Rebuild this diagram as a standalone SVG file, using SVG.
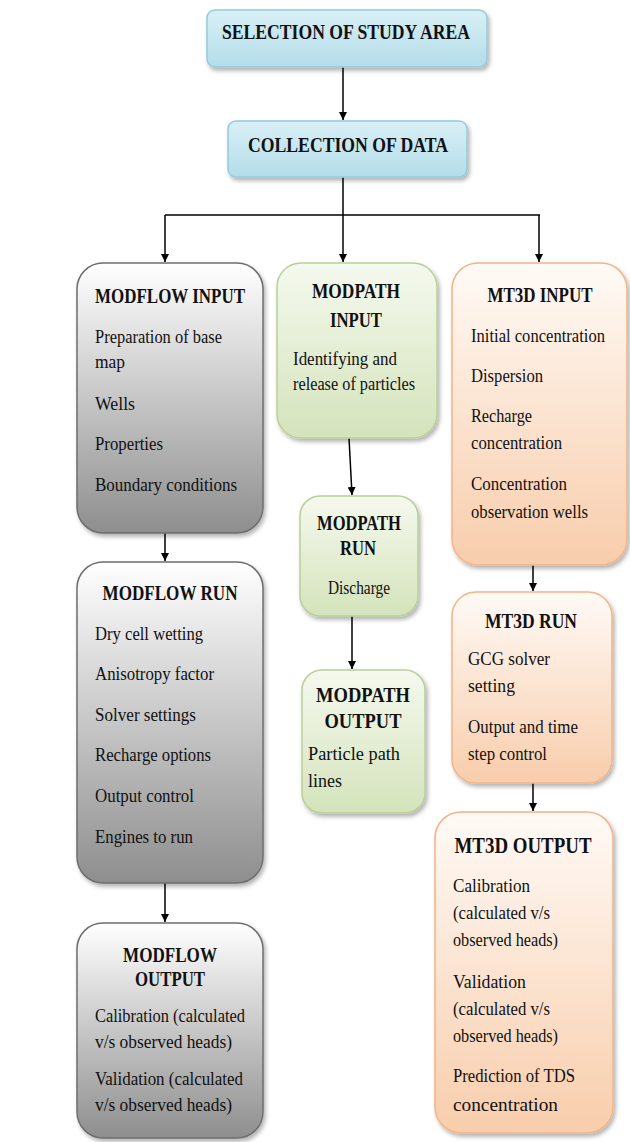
<svg xmlns="http://www.w3.org/2000/svg" width="630" height="1142" viewBox="0 0 630 1142">
<defs>
<linearGradient id="gBlue" x1="0" y1="0" x2="0" y2="1"><stop offset="0" stop-color="#d9eff6"/><stop offset="1" stop-color="#b3dde9"/></linearGradient>
<linearGradient id="gGray" x1="0" y1="0" x2="0" y2="1"><stop offset="0" stop-color="#ffffff"/><stop offset="1" stop-color="#8e8e8e"/></linearGradient>
<linearGradient id="gGreen" x1="0" y1="0" x2="0" y2="1"><stop offset="0" stop-color="#f5f9ee"/><stop offset="1" stop-color="#d4e3bb"/></linearGradient>
<linearGradient id="gOrange" x1="0" y1="0" x2="0" y2="1"><stop offset="0" stop-color="#fffaf6"/><stop offset="1" stop-color="#f8cdab"/></linearGradient>
<filter id="sh" x="-10%" y="-10%" width="130%" height="130%"><feDropShadow dx="2" dy="3" stdDeviation="2" flood-color="#000" flood-opacity="0.3"/></filter>
<marker id="ar" viewBox="0 0 10 10" refX="10" refY="5" markerWidth="8" markerHeight="8" markerUnits="userSpaceOnUse" orient="auto"><path d="M0,0 L10,5 L0,10 z" fill="#000"/></marker>
</defs>
<style>
.b{fill:url(#gBlue);stroke:#93cbdb;stroke-width:1.5;filter:url(#sh)}
.g{fill:url(#gGray);stroke:#6e6e6e;stroke-width:1.5;filter:url(#sh)}
.n{fill:url(#gGreen);stroke:#b9cf99;stroke-width:1.5;filter:url(#sh)}
.o{fill:url(#gOrange);stroke:#f2b488;stroke-width:1.5;filter:url(#sh)}
text{font-family:"Liberation Serif","Times New Roman",serif;fill:#111}
.h{font-weight:bold;font-size:20px}
.t{font-weight:bold;font-size:22px}
.t2{font-weight:bold;font-size:24px}
.x{font-size:18px}
.c{text-anchor:middle}
.ln{stroke:#000;stroke-width:1.5;fill:none}
.ar{marker-end:url(#ar)}
</style>

<g id="connectors">
<line class="ln ar" x1="343" y1="67" x2="343" y2="120"/>
<line class="ln ar" x1="343" y1="177" x2="343" y2="262"/>
<polyline class="ln" points="165,215 540,215"/>
<line class="ln ar" x1="165" y1="215" x2="165" y2="262"/>
<line class="ln ar" x1="539" y1="215" x2="539" y2="262"/>
<line class="ln ar" x1="165" y1="533" x2="165" y2="561"/>
<line class="ln ar" x1="349" y1="438" x2="352" y2="495"/>
<line class="ln ar" x1="352" y1="616" x2="352" y2="669"/>
<line class="ln ar" x1="533" y1="565" x2="533" y2="591"/>
<line class="ln ar" x1="165" y1="883" x2="165" y2="922"/>
<line class="ln ar" x1="533" y1="783" x2="533" y2="811"/>
</g>

<g id="selection">
<rect class="b" x="207" y="10" width="280" height="57" rx="8"/>
<text class="t c" x="346" y="39" textLength="248" lengthAdjust="spacingAndGlyphs">SELECTION OF STUDY AREA</text>
</g>

<g id="collection">
<rect class="b" x="228" y="121" width="239" height="56" rx="8"/>
<text class="t c" x="348" y="152" textLength="200" lengthAdjust="spacingAndGlyphs">COLLECTION OF DATA</text>
</g>

<g id="modflow-input">
<rect class="g" x="77" y="263" width="186" height="270" rx="26"/>
<text class="h c" x="170" y="303" textLength="150" lengthAdjust="spacingAndGlyphs">MODFLOW INPUT</text>
<text class="x" x="95" y="343" textLength="127" lengthAdjust="spacingAndGlyphs">Preparation of base</text>
<text class="x" x="95" y="368" textLength="30" lengthAdjust="spacingAndGlyphs">map</text>
<text class="x" x="95" y="410" textLength="40" lengthAdjust="spacingAndGlyphs">Wells</text>
<text class="x" x="95" y="450" textLength="68" lengthAdjust="spacingAndGlyphs">Properties</text>
<text class="x" x="95" y="491" textLength="142" lengthAdjust="spacingAndGlyphs">Boundary conditions</text>
</g>

<g id="modpath-input">
<rect class="n" x="277" y="263" width="160" height="175" rx="24"/>
<text class="h c" x="356" y="298" textLength="88" lengthAdjust="spacingAndGlyphs">MODPATH</text>
<text class="h c" x="356" y="327" textLength="52" lengthAdjust="spacingAndGlyphs">INPUT</text>
<text class="x" x="293" y="365" textLength="104" lengthAdjust="spacingAndGlyphs">Identifying and</text>
<text class="x" x="293" y="390" textLength="122" lengthAdjust="spacingAndGlyphs">release of particles</text>
</g>

<g id="mt3d-input">
<rect class="o" x="452" y="263" width="175" height="302" rx="26"/>
<text class="h c" x="540" y="302" textLength="105" lengthAdjust="spacingAndGlyphs">MT3D INPUT</text>
<text class="x" x="471" y="342" textLength="134" lengthAdjust="spacingAndGlyphs">Initial concentration</text>
<text class="x" x="471" y="382" textLength="72" lengthAdjust="spacingAndGlyphs">Dispersion</text>
<text class="x" x="471" y="422" textLength="61" lengthAdjust="spacingAndGlyphs">Recharge</text>
<text class="x" x="471" y="449" textLength="91" lengthAdjust="spacingAndGlyphs">concentration</text>
<text class="x" x="471" y="490" textLength="96" lengthAdjust="spacingAndGlyphs">Concentration</text>
<text class="x" x="471" y="518" textLength="117" lengthAdjust="spacingAndGlyphs">observation wells</text>
</g>

<g id="modflow-run">
<rect class="g" x="77" y="562" width="186" height="321" rx="26"/>
<text class="h c" x="170" y="600" textLength="135" lengthAdjust="spacingAndGlyphs">MODFLOW RUN</text>
<text class="x" x="95" y="640" textLength="108" lengthAdjust="spacingAndGlyphs">Dry cell wetting</text>
<text class="x" x="95" y="680" textLength="119" lengthAdjust="spacingAndGlyphs">Anisotropy factor</text>
<text class="x" x="95" y="721" textLength="101" lengthAdjust="spacingAndGlyphs">Solver settings</text>
<text class="x" x="95" y="761" textLength="116" lengthAdjust="spacingAndGlyphs">Recharge options</text>
<text class="x" x="95" y="802" textLength="99" lengthAdjust="spacingAndGlyphs">Output control</text>
<text class="x" x="95" y="843" textLength="98" lengthAdjust="spacingAndGlyphs">Engines to run</text>
</g>

<g id="modpath-run">
<rect class="n" x="300" y="496" width="118" height="120" rx="20"/>
<text class="h c" x="359" y="530" textLength="84" lengthAdjust="spacingAndGlyphs">MODPATH</text>
<text class="h c" x="358" y="555" textLength="36" lengthAdjust="spacingAndGlyphs">RUN</text>
<text class="x c" x="359" y="594" textLength="62" lengthAdjust="spacingAndGlyphs">Discharge</text>
</g>

<g id="modpath-output">
<rect class="n" x="302" y="670" width="123" height="143" rx="20"/>
<text class="h c" x="363" y="702" textLength="94" lengthAdjust="spacingAndGlyphs">MODPATH</text>
<text class="h c" x="363" y="728" textLength="77" lengthAdjust="spacingAndGlyphs">OUTPUT</text>
<text class="x" x="308" y="760" textLength="92" lengthAdjust="spacingAndGlyphs">Particle path</text>
<text class="x" x="308" y="787" textLength="34" lengthAdjust="spacingAndGlyphs">lines</text>
</g>

<g id="mt3d-run">
<rect class="o" x="452" y="592" width="160" height="191" rx="24"/>
<text class="h c" x="531" y="628" textLength="92" lengthAdjust="spacingAndGlyphs">MT3D RUN</text>
<text class="x" x="468" y="665" textLength="82" lengthAdjust="spacingAndGlyphs">GCG solver</text>
<text class="x" x="468" y="692" textLength="47" lengthAdjust="spacingAndGlyphs">setting</text>
<text class="x" x="468" y="733" textLength="110" lengthAdjust="spacingAndGlyphs">Output and time</text>
<text class="x" x="468" y="760" textLength="79" lengthAdjust="spacingAndGlyphs">step control</text>
</g>

<g id="modflow-output">
<rect class="g" x="77" y="923" width="186" height="215" rx="26"/>
<text class="h c" x="170" y="962" textLength="94" lengthAdjust="spacingAndGlyphs">MODFLOW</text>
<text class="h c" x="170" y="986" textLength="70" lengthAdjust="spacingAndGlyphs">OUTPUT</text>
<text class="x" x="95" y="1022" textLength="150" lengthAdjust="spacingAndGlyphs">Calibration (calculated</text>
<text class="x" x="95" y="1048" textLength="137" lengthAdjust="spacingAndGlyphs">v/s observed heads)</text>
<text class="x" x="95" y="1085" textLength="148" lengthAdjust="spacingAndGlyphs">Validation (calculated</text>
<text class="x" x="95" y="1111" textLength="137" lengthAdjust="spacingAndGlyphs">v/s observed heads)</text>
</g>

<g id="mt3d-output">
<rect class="o" x="435" y="812" width="178" height="321" rx="26"/>
<text class="t2 c" x="523" y="853" textLength="137" lengthAdjust="spacingAndGlyphs">MT3D OUTPUT</text>
<text class="x" x="453" y="892" textLength="77" lengthAdjust="spacingAndGlyphs">Calibration</text>
<text class="x" x="453" y="919" textLength="97" lengthAdjust="spacingAndGlyphs">(calculated v/s</text>
<text class="x" x="453" y="946" textLength="105" lengthAdjust="spacingAndGlyphs">observed heads)</text>
<text class="x" x="453" y="988" textLength="73" lengthAdjust="spacingAndGlyphs">Validation</text>
<text class="x" x="453" y="1015" textLength="97" lengthAdjust="spacingAndGlyphs">(calculated v/s</text>
<text class="x" x="453" y="1042" textLength="105" lengthAdjust="spacingAndGlyphs">observed heads)</text>
<text class="x" x="453" y="1082" textLength="122" lengthAdjust="spacingAndGlyphs">Prediction of TDS</text>
<text class="x" x="453" y="1111" textLength="105" lengthAdjust="spacingAndGlyphs">concentration</text>
</g>
</svg>
